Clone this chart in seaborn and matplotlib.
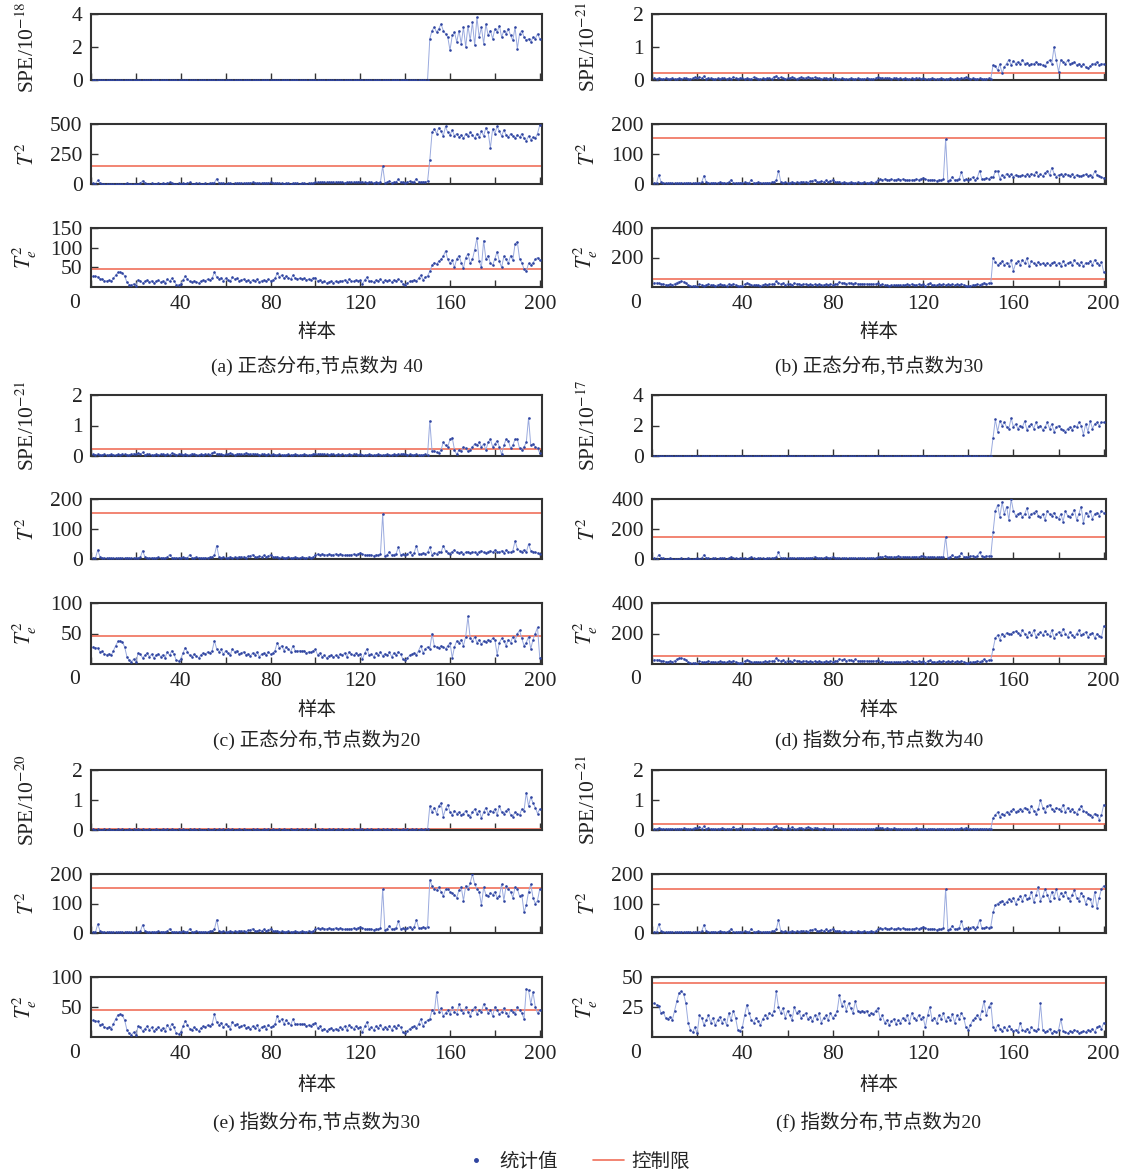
import matplotlib
matplotlib.use("Agg")
import matplotlib.pyplot as plt
from matplotlib.lines import Line2D
import numpy as np
import pandas as pd
import seaborn as sns

# ---------------- data ----------------
samples = list(range(1, 201))

# normal-operation part (samples 1-150), shared by the panels where it looks identical
t2_normal = [5, 3, 30, 8, 4, 3, 2, 4, 3, 2,
             3, 2, 4, 3, 2, 5, 3, 2, 3, 4,
             3, 6, 28, 8, 4, 3, 5, 4, 3, 6,
             4, 5, 3, 6, 15, 5, 4, 3, 5, 4,
             6, 3, 5, 15, 4, 3, 6, 5, 4, 3,
             5, 4, 6, 8, 12, 45, 8, 5, 6, 4,
             5, 7, 4, 6, 5, 8, 6, 7, 5, 9,
             10, 15, 8, 6, 9, 7, 12, 8, 10, 15,
             7, 6, 8, 5, 6, 4, 5, 6, 4, 5,
             6, 5, 4, 6, 5, 4, 7, 5, 6, 14,
             16, 13, 17, 15, 14, 16, 13, 15, 17, 14,
             16, 15, 12, 14, 13, 15, 16, 14, 18, 20,
             16, 14, 12, 15, 13, 11, 14, 12, 16, 150,
             10, 14, 25, 12, 15, 18, 40, 14, 16, 12,
             18, 22, 14, 20, 45, 18, 16, 20, 18, 22]

te2_normal = [28, 27, 26, 20, 21, 16, 15, 17, 14, 22,
              30, 37, 38, 36, 28, 12, 6, 4, 8, 3,
              18, 16, 10, 14, 18, 12, 16, 10, 14, 17,
              12, 15, 10, 20, 14, 22, 16, 6, 5, 8,
              18, 27, 20, 14, 12, 16, 13, 10, 15, 18,
              16, 20, 18, 22, 38, 25, 20, 24, 16, 22,
              18, 14, 25, 20, 22, 16, 18, 20, 15, 17,
              13, 18, 15, 20, 12, 16, 18, 14, 20, 16,
              18, 22, 35, 26, 30, 22, 28, 24, 20, 30,
              22, 21, 22, 21, 22, 18, 20, 19, 22, 24,
              15, 18, 12, 14, 10, 13, 15, 11, 14, 12,
              16, 14, 18, 12, 20, 16, 14, 18, 15, 17,
              8, 18, 25, 14, 16, 12, 18, 15, 20, 13,
              17, 14, 19, 12, 18, 15, 20, 16, 8, 6,
              10, 14, 16, 18, 15, 22, 30, 18, 25, 28]

spe_normal = [0.05, 0.04, 0.06, 0.03, 0.04, 0.05, 0.03, 0.04, 0.05, 0.04,
              0.03, 0.05, 0.04, 0.06, 0.05, 0.04, 0.03, 0.05, 0.08, 0.06,
              0.10, 0.05, 0.12, 0.04, 0.06, 0.05, 0.04, 0.03, 0.05, 0.04,
              0.06, 0.05, 0.04, 0.05, 0.03, 0.09, 0.05, 0.04, 0.06, 0.05,
              0.04, 0.05, 0.03, 0.04, 0.08, 0.05, 0.04, 0.03, 0.05, 0.04,
              0.06, 0.05, 0.04, 0.10, 0.12, 0.06, 0.08, 0.05, 0.04, 0.06,
              0.05, 0.09, 0.05, 0.04, 0.06, 0.08, 0.05, 0.07, 0.10, 0.06,
              0.05, 0.08, 0.06, 0.05, 0.04, 0.06, 0.05, 0.04, 0.05, 0.04,
              0.05, 0.04, 0.03, 0.05, 0.04, 0.03, 0.04, 0.05, 0.03, 0.04,
              0.05, 0.04, 0.03, 0.04, 0.05, 0.04, 0.03, 0.04, 0.06, 0.08,
              0.06, 0.07, 0.05, 0.06, 0.05, 0.04, 0.06, 0.05, 0.04, 0.05,
              0.04, 0.05, 0.04, 0.03, 0.05, 0.04, 0.06, 0.05, 0.04, 0.05,
              0.04, 0.03, 0.04, 0.05, 0.04, 0.03, 0.04, 0.05, 0.04, 0.03,
              0.04, 0.05, 0.04, 0.03, 0.05, 0.04, 0.06, 0.05, 0.08, 0.05,
              0.04, 0.05, 0.03, 0.04, 0.05, 0.04, 0.03, 0.04, 0.05, 0.04]

spe_tiny = [0.02, 0.01, 0.02, 0.01, 0.01, 0.02, 0.01, 0.02, 0.01, 0.01,
            0.01, 0.02, 0.01, 0.02, 0.01, 0.01, 0.02, 0.01, 0.02, 0.01,
            0.02, 0.01, 0.02, 0.01, 0.01, 0.02, 0.01, 0.01, 0.02, 0.01,
            0.01, 0.02, 0.01, 0.02, 0.01, 0.02, 0.01, 0.01, 0.02, 0.01,
            0.02, 0.01, 0.01, 0.02, 0.01, 0.02, 0.01, 0.02, 0.01, 0.01,
            0.01, 0.02, 0.01, 0.01, 0.02, 0.01, 0.02, 0.01, 0.02, 0.01,
            0.02, 0.01, 0.02, 0.01, 0.01, 0.02, 0.01, 0.02, 0.01, 0.01,
            0.01, 0.02, 0.01, 0.02, 0.01, 0.01, 0.02, 0.01, 0.02, 0.01,
            0.02, 0.01, 0.01, 0.02, 0.01, 0.02, 0.01, 0.01, 0.02, 0.01,
            0.01, 0.02, 0.01, 0.02, 0.01, 0.02, 0.01, 0.02, 0.01, 0.01,
            0.02, 0.01, 0.02, 0.01, 0.01, 0.02, 0.01, 0.02, 0.01, 0.02,
            0.01, 0.02, 0.01, 0.01, 0.02, 0.01, 0.02, 0.01, 0.01, 0.02,
            0.02, 0.01, 0.02, 0.01, 0.02, 0.01, 0.01, 0.02, 0.01, 0.02,
            0.01, 0.02, 0.01, 0.02, 0.01, 0.02, 0.01, 0.01, 0.02, 0.01,
            0.02, 0.01, 0.02, 0.01, 0.02, 0.01, 0.02, 0.01, 0.02, 0.02]

# fault part (samples 151-200) for each panel
a_spe_fault = [2.5, 3.0, 3.2, 2.9, 3.1, 3.4, 3.0, 2.8, 2.6, 1.8,
               2.7, 2.9, 2.3, 3.0, 2.2, 3.2, 2.0, 3.3, 2.4, 3.5,
               2.1, 3.8, 2.6, 3.2, 2.2, 3.4, 2.7, 3.0, 2.5, 3.1,
               2.9, 3.3, 2.6, 3.0, 2.8, 3.1, 2.7, 2.4, 3.2, 1.9,
               2.8, 3.0, 2.6, 2.4, 2.5, 2.3, 2.6, 2.5, 2.8, 2.5]
a_t2_fault = [200, 430, 460, 420, 470, 440, 400, 480, 430, 410,
              450, 400, 420, 390, 410, 380, 420, 400, 430, 410,
              380, 420, 390, 440, 400, 470, 430, 300, 460, 420,
              480, 440, 400, 450, 410, 390, 420, 400, 380, 410,
              390, 420, 380, 360, 400, 370, 390, 380, 420, 490]
a_te2_fault = [40, 55, 62, 58, 66, 70, 78, 92, 70, 60,
               68, 50, 72, 80, 62, 48, 75, 85, 60, 70,
               95, 125, 65, 50, 118, 70, 80, 60, 55, 72,
               90, 65, 50, 78, 70, 60, 80, 68, 110, 115,
               72, 62, 45, 40, 60, 55, 62, 70, 75, 68]

b_spe_fault = [0.45, 0.42, 0.3, 0.48, 0.2, 0.4, 0.5, 0.62, 0.45, 0.58,
               0.5, 0.55, 0.48, 0.62, 0.5, 0.52, 0.45, 0.5, 0.48, 0.55,
               0.5, 0.48, 0.45, 0.42, 0.55, 0.6, 0.5, 1.0, 0.6, 0.25,
               0.62, 0.55, 0.5, 0.6, 0.48, 0.52, 0.55, 0.45, 0.5, 0.42,
               0.48, 0.4, 0.35, 0.42, 0.48, 0.5, 0.55, 0.45, 0.5, 0.48]
b_t2_fault = [22, 42, 44, 18, 30, 25, 35, 28, 32, 25,
              30, 28, 26, 30, 27, 32, 28, 35, 30, 40,
              28, 32, 26, 38, 42, 30, 55, 35, 25, 30,
              32, 28, 35, 30, 28, 32, 25, 30, 28, 26,
              30, 32, 28, 30, 25, 42, 30, 28, 22, 20]
b_te2_fault = [200, 170, 150, 160, 175, 150, 165, 145, 180, 110,
               160, 175, 150, 185, 160, 195, 140, 175, 160, 150,
               170, 155, 160, 150, 165, 150, 160, 170, 150, 165,
               140, 175, 150, 160, 170, 150, 180, 160, 150, 170,
               140, 165, 160, 175, 150, 185, 160, 150, 170, 100]

c_spe_fault = [1.15, 0.15, 0.18, 0.12, 0.1, 0.2, 0.45, 0.35, 0.3, 0.55,
               0.6, 0.2, 0.05, 0.2, 0.15, 0.3, 0.25, 0.15, 0.2, 0.3,
               0.4, 0.35, 0.45, 0.3, 0.4, 0.2, 0.45, 0.55, 0.3, 0.4,
               0.5, 0.3, 0.05, 0.35, 0.55, 0.5, 0.25, 0.35, 0.55, 0.55,
               0.25, 0.2, 0.3, 0.45, 1.25, 0.35, 0.4, 0.3, 0.25, 0.1]
c_t2_fault = [40, 15, 20, 18, 25, 22, 45, 28, 20, 18,
              25, 30, 22, 20, 25, 18, 22, 25, 20, 24,
              22, 18, 25, 28, 22, 20, 25, 28, 22, 30,
              25, 22, 28, 20, 30, 25, 22, 28, 60, 35,
              28, 25, 30, 22, 50, 28, 25, 22, 20, 18]
c_te2_fault = [25, 50, 30, 28, 26, 30, 28, 25, 30, 35,
               10, 28, 38, 35, 40, 30, 45, 78, 42, 38,
               45, 35, 40, 32, 38, 36, 40, 38, 42, 40,
               15, 35, 42, 38, 30, 40, 35, 45, 38, 50,
               55, 42, 30, 35, 45, 25, 40, 50, 60, 10]

d_spe_fault = [1.2, 2.4, 1.6, 2.3, 2.0, 2.2, 1.9, 1.8, 2.5, 1.9,
               2.1, 1.8, 2.0, 1.9, 2.3, 1.7, 2.0, 2.1, 1.8, 2.2,
               1.9, 2.0, 1.7, 1.9, 2.2, 1.8, 2.1, 1.6, 1.9, 2.0,
               1.8, 1.7, 1.6, 1.8, 1.9, 1.7, 2.0, 1.9, 2.2, 2.0,
               1.4, 2.1, 1.6, 2.3, 1.8, 2.1, 2.2, 2.0, 2.2, 2.2]
d_t2_fault = [180, 320, 360, 280, 380, 300, 350, 260, 400, 320,
              290, 300, 310, 280, 300, 340, 280, 300, 310, 320,
              290, 280, 300, 260, 320, 300, 290, 310, 280, 270,
              300, 250, 320, 290, 280, 300, 330, 260, 300, 350,
              240, 310, 290, 320, 270, 300, 310, 290, 320, 310]
d_te2_fault = [100, 170, 190, 160, 200, 185, 205, 195, 200, 210,
               215, 205, 190, 220, 200, 175, 210, 190, 220, 180,
               200, 210, 190, 215, 200, 185, 220, 170, 195, 210,
               190, 230, 200, 180, 210, 190, 175, 200, 220, 190,
               200, 210, 180, 195, 205, 170, 200, 185, 175, 250]

e_spe_fault = [0.8, 0.6, 0.75, 0.55, 0.8, 0.9, 0.45, 0.7, 0.85, 0.6,
               0.5, 0.65, 0.55, 0.6, 0.5, 0.55, 0.65, 0.5, 0.45, 0.6,
               0.7, 0.55, 0.65, 0.4, 0.6, 0.75, 0.55, 0.65, 0.6, 0.7,
               0.5, 0.8, 0.6, 0.55, 0.65, 0.7, 0.5, 0.45, 0.6, 0.55,
               0.5, 0.7, 0.65, 1.25, 0.8, 1.1, 0.9, 0.75, 0.55, 0.7]
e_t2_fault = [180, 160, 150, 145, 155, 140, 125, 148, 150, 140,
              135, 130, 120, 145, 155, 110, 160, 150, 170, 200,
              165, 150, 140, 95, 155, 130, 125, 135, 130, 140,
              120, 125, 165, 110, 160, 150, 140, 120, 155, 150,
              125, 130, 70, 95, 140, 165, 120, 100, 110, 150]
e_te2_fault = [30, 45, 40, 75, 42, 48, 35, 40, 45, 38,
               50, 42, 38, 55, 45, 40, 50, 42, 35, 45,
               50, 38, 45, 42, 55, 48, 40, 45, 35, 50,
               45, 38, 42, 48, 40, 35, 45, 42, 38, 50,
               45, 40, 30, 80, 78, 55, 75, 50, 40, 45]

f_spe_fault = [0.4, 0.5, 0.6, 0.45, 0.55, 0.5, 0.6, 0.55, 0.65, 0.7,
               0.6, 0.65, 0.7, 0.65, 0.75, 0.7, 0.6, 0.8, 0.65, 0.55,
               0.7, 1.0, 0.75, 0.6, 0.8, 0.85, 0.7, 0.65, 0.75, 0.7,
               0.65, 0.85, 0.6, 0.75, 0.65, 0.7, 0.6, 0.55, 0.7, 0.8,
               0.65, 0.6, 0.55, 0.5, 0.45, 0.55, 0.5, 0.35, 0.5, 0.85]
f_t2_fault = [70, 95, 100, 105, 110, 100, 105, 115, 110, 120,
              100, 115, 125, 110, 130, 115, 120, 140, 105, 130,
              155, 110, 125, 150, 130, 110, 140, 120, 150, 115,
              135, 125, 140, 120, 110, 130, 145, 120, 110, 135,
              125, 100, 120, 115, 90, 140, 85, 120, 150, 160]
f_te2_fault = [8, 6, 10, 7, 5, 8, 6, 9, 7, 5,
               6, 4, 12, 6, 5, 7, 4, 8, 6, 5,
               7, 28, 6, 4, 5, 7, 3, 5, 4, 6,
               15, 5, 4, 3, 5, 4, 6, 5, 3, 4,
               5, 4, 6, 5, 7, 4, 8, 9, 7, 12]

# control limits [SPE, T2, Te2]
limits = {
    "a": [0.02, 150, 46],
    "b": [0.22, 152, 55],
    "c": [0.22, 152, 46],
    "d": [0.02, 150, 52],
    "e": [0.02, 152, 45],
    "f": [0.20, 148, 45],
}
spe_exponents = {"a": "-18", "b": "-21", "c": "-21", "d": "-17", "e": "-20", "f": "-21"}
ymax = {
    "a": [4, 500, 150], "b": [2, 200, 400], "c": [2, 200, 100],
    "d": [4, 400, 400], "e": [2, 200, 100], "f": [2, 200, 50],
}
yticks = {
    "a": [[0, 2, 4], [0, 250, 500], [50, 100, 150]],
    "b": [[0, 1, 2], [0, 100, 200], [200, 400]],
    "c": [[0, 1, 2], [0, 100, 200], [50, 100]],
    "d": [[0, 2, 4], [0, 200, 400], [200, 400]],
    "e": [[0, 1, 2], [0, 100, 200], [50, 100]],
    "f": [[0, 1, 2], [0, 100, 200], [25, 50]],
}
captions = {
    "a": "(a) 正态分布,节点数为 40",
    "b": "(b) 正态分布,节点数为30",
    "c": "(c) 正态分布,节点数为20",
    "d": "(d) 指数分布,节点数为40",
    "e": "(e) 指数分布,节点数为30",
    "f": "(f) 指数分布,节点数为20",
}
xtick_labels = ["0", "40", "80", "120", "160", "200"]
xlabel_text = "样本"
legend_labels = ["统计值", "控制限"]

series = {
    "a": [spe_tiny + a_spe_fault, t2_normal + a_t2_fault, te2_normal + a_te2_fault],
    "b": [spe_normal + b_spe_fault, t2_normal + b_t2_fault, te2_normal + b_te2_fault],
    "c": [spe_normal + c_spe_fault, t2_normal + c_t2_fault, te2_normal + c_te2_fault],
    "d": [spe_tiny + d_spe_fault, t2_normal + d_t2_fault, te2_normal + d_te2_fault],
    "e": [spe_tiny + e_spe_fault, t2_normal + e_t2_fault, te2_normal + e_te2_fault],
    "f": [spe_normal + f_spe_fault, t2_normal + f_t2_fault, te2_normal + f_te2_fault],
}

# ---------------- style ----------------
sns.set_style("ticks")
plt.rcParams["font.family"] = ["Liberation Serif", "Noto Sans CJK SC", "DejaVu Sans"]
plt.rcParams["mathtext.fontset"] = "stix"

LINE = "#9aaade"
DOT = "#2f44a0"
RED = "#f0705a"
FRAME = "#333333"

W, H = 1137, 1176
fig = plt.figure(figsize=(W / 100, H / 100), dpi=100)
fig.patch.set_facecolor("white")

col_x = [(91, 542), (652, 1106)]
row_y = [[(14, 80), (124, 184), (228, 287)],
         [(395, 456), (499, 559), (603, 664)],
         [(770, 830), (874, 933), (977, 1037)]]
label_y = [(332, 366), (710, 740), (1085, 1122)]
panel_pos = {"a": (0, 0), "b": (0, 1), "c": (1, 0), "d": (1, 1), "e": (2, 0), "f": (2, 1)}

def px_axes(x0, x1, y0, y1):
    return fig.add_axes([x0 / W, 1 - y1 / H, (x1 - x0) / W, (y1 - y0) / H])

for key, (r, c) in panel_pos.items():
    x0, x1 = col_x[c]
    ylabels = [f"SPE/10$^{{{spe_exponents[key]}}}$", "$T^2$", "$T_e^2$"]
    for k in range(3):
        y0, y1 = row_y[r][k]
        ax = px_axes(x0, x1, y0, y1)
        vals = series[key][k]
        sns.lineplot(x=samples, y=vals, ax=ax, color=LINE, linewidth=0.7,
                     estimator=None, sort=False, zorder=2.5)
        sns.scatterplot(x=samples, y=vals, ax=ax, color=DOT, s=3.5, linewidth=0, zorder=3)
        ax.axhline(limits[key][k], color=RED, lw=1.2, zorder=2)
        ax.set_xlim(0, 201)
        ax.set_ylim(0, ymax[key][k])
        ax.set_xticks([0, 40, 80, 120, 160, 200])
        ax.set_xticks([20, 60, 100, 140, 180], minor=True)
        ax.set_yticks(yticks[key][k])
        ax.tick_params(which="both", direction="in", length=5, width=1,
                       color=FRAME, labelsize=15.5, labelcolor="#222222", pad=6,
                       top=False, right=False)
        for sp in ax.spines.values():
            sp.set_visible(True)
            sp.set_color(FRAME)
            sp.set_linewidth(1.5)
        ax.set_xlabel("")
        ax.set_ylabel(ylabels[k], fontsize=15.5, color="#222222")
        ax.yaxis.set_label_coords(-0.115, 0.5)
        if k < 2:
            ax.tick_params(labelbottom=False)
        else:
            ax.set_xticklabels([""] + xtick_labels[1:])
            ax.annotate(xtick_labels[0], xy=(0, 0), xycoords="axes fraction",
                        xytext=(-16, -16), textcoords="offset pixels",
                        ha="center", va="center", fontsize=15.5, color="#222222")
    cx = (x0 + x1) / 2
    fig.text(cx / W, 1 - label_y[r][0] / H, xlabel_text, ha="center", va="center",
             fontsize=14, color="#222222")
    fig.text(cx / W, 1 - label_y[r][1] / H, captions[key], ha="center", va="center",
             fontsize=14, color="#222222")

handles = [Line2D([], [], ls="", marker="o", ms=2.5, color=DOT),
           Line2D([], [], color=RED, lw=1.2)]
fig.legend(handles, legend_labels, loc="center", bbox_to_anchor=(575 / W, 1 - 1162 / H),
           ncol=2, frameon=False, fontsize=14, handlelength=1.6, columnspacing=1.8,
           handletextpad=0.4)

fig.savefig("out.png", dpi=100, facecolor="white")
